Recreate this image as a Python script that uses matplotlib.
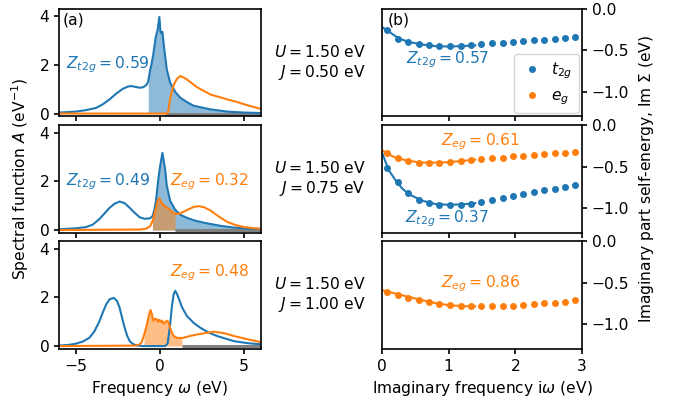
import numpy as np
import matplotlib
matplotlib.use("Agg")
import matplotlib.pyplot as plt
from matplotlib.lines import Line2D

plt.rcParams['font.size'] = 11.2
plt.rcParams['axes.linewidth'] = 1.2
plt.rcParams['xtick.major.width'] = 1.2
plt.rcParams['ytick.major.width'] = 1.2

C_T2G = '#1f77b4'
C_EG = '#ff7f0e'

# ---- spectral functions (real frequency) ----
# J = 0.50 eV
w_t2g_a = [-6, -5, -4.4, -3.8, -3.4, -3.0, -2.6, -2.2, -1.9, -1.7, -1.5, -1.2, -1.0, -0.9,
           -0.8, -0.7, -0.6, -0.5, -0.4, -0.26, -0.14, -0.04, 0.02, 0.06, 0.14, 0.24, 0.4,
           0.6, 0.9, 1.2, 1.6, 2.0, 3.0, 4.0, 5.0, 6.0]
A_t2g_a = [0.04, 0.08, 0.14, 0.23, 0.38, 0.58, 0.82, 1.02, 1.11, 1.13, 1.1, 1.06, 1.08, 1.13,
           1.18, 1.33, 1.74, 2.05, 2.43, 3.12, 3.46, 3.97, 3.4, 3.3, 3.36, 2.71, 1.81,
           1.27, 0.89, 0.65, 0.47, 0.32, 0.17, 0.08, 0.04, 0.02]
w_eg_a = [-6, 0.3, 0.45, 0.5, 0.6, 0.7, 0.8, 0.9, 1.0, 1.2, 1.35, 1.6, 2.2, 3.0, 3.5, 4.0,
          4.5, 5.0, 5.5, 6.0]
A_eg_a = [0.0, 0.0, 0.02, 0.12, 0.6, 0.9, 1.15, 1.3, 1.42, 1.54, 1.5, 1.4, 1.08, 0.78, 0.68,
          0.58, 0.49, 0.38, 0.28, 0.19]

# J = 0.75 eV
w_t2g_b = [-6, -5, -4.4, -4.0, -3.6, -3.3, -3.0, -2.7, -2.4, -2.1, -1.8, -1.5, -1.2, -0.9,
           -0.6, -0.45, -0.35, -0.24, -0.1, 0.0, 0.14, 0.3, 0.4, 0.6, 0.9, 1.2, 1.6, 2.0,
           2.6, 3.6, 4.4, 5.2, 6.0]
A_t2g_b = [0.03, 0.07, 0.12, 0.22, 0.45, 0.68, 0.91, 1.08, 1.17, 1.1, 0.91, 0.7, 0.52, 0.46,
           0.48, 0.56, 0.8, 1.2, 2.1, 2.6, 3.17, 2.5, 1.82, 1.2, 0.83, 0.63, 0.5, 0.4,
           0.3, 0.17, 0.1, 0.06, 0.04]
w_eg_b = [-6, -1.2, -0.8, -0.6, -0.45, -0.3, -0.15, -0.04, 0.1, 0.25, 0.5, 0.7, 0.9, 1.1,
          1.3, 1.6, 2.0, 2.3, 2.6, 3.0, 3.5, 4.0, 4.5, 5.0, 5.5, 6.0]
A_eg_b = [0.0, 0.02, 0.06, 0.15, 0.35, 0.75, 1.2, 1.3, 1.12, 1.0, 0.88, 0.75, 0.66, 0.66,
          0.72, 0.82, 0.95, 0.98, 0.94, 0.8, 0.55, 0.33, 0.2, 0.12, 0.08, 0.05]

# J = 1.00 eV
w_t2g_c = [-6, -5.4, -5.0, -4.6, -4.2, -3.9, -3.6, -3.4, -3.2, -3.0, -2.75, -2.55, -2.4,
           -2.25, -2.1, -1.95, -1.8, -1.6, -1.4, -1.0, 0.3, 0.45, 0.6, 0.7, 0.8, 0.9, 1.0,
           1.1, 1.3, 1.6, 2.0, 2.4, 2.9, 3.4, 4.4, 5.2, 6.0]
A_t2g_c = [0.02, 0.05, 0.1, 0.18, 0.34, 0.6, 1.02, 1.38, 1.71, 1.92, 1.98, 1.85, 1.57,
           1.15, 0.75, 0.42, 0.2, 0.08, 0.03, 0.0, 0.0, 0.1, 0.89, 1.6, 2.1, 2.27, 2.15,
           1.98, 1.6, 1.23, 0.95, 0.75, 0.55, 0.41, 0.2, 0.12, 0.07]
w_eg_c = [-6, -1.4, -1.2, -1.1, -0.95, -0.8, -0.65, -0.56, -0.48, -0.4, -0.3, -0.2, -0.12,
          -0.05, 0.05, 0.12, 0.2, 0.3, 0.4, 0.48, 0.56, 0.7, 0.8, 1.0, 1.3, 1.5, 1.8, 2.4,
          3.2, 3.8, 4.4, 5.2, 6.0]
A_eg_c = [0.0, 0.02, 0.08, 0.15, 0.45, 0.83, 1.3, 1.48, 1.3, 1.04, 1.12, 1.1, 1.0,
          1.08, 1.0, 1.05, 0.92, 0.98, 1.04, 1.0, 0.83, 0.55, 0.42, 0.34, 0.33, 0.36, 0.42,
          0.5, 0.59, 0.53, 0.41, 0.28, 0.16]

# filled windows (eV) and start of the grey band
t2g_fill = [(-0.7, 6.0), (-0.45, 6.0), None]
eg_fill = [None, (-0.5, 0.9), (-1.0, 1.3)]
grey_start = [0.3, 0.9, 1.3]

z_left = [[('t2g', 0.59)], [('t2g', 0.49), ('eg', 0.32)], [('eg', 0.48)]]
U_vals = [1.50, 1.50, 1.50]
J_vals = [0.50, 0.75, 1.00]

# ---- self-energies (Matsubara axis) ----
iw = [0.08, 0.24, 0.39, 0.55, 0.71, 0.86, 1.02, 1.18, 1.34, 1.49, 1.65, 1.81, 1.96,
      2.12, 2.28, 2.43, 2.59, 2.75, 2.90]
sig_t2g_a = [-0.25, -0.36, -0.40, -0.43, -0.44, -0.45, -0.45, -0.445, -0.44, -0.43, -0.415,
             -0.41, -0.40, -0.39, -0.38, -0.375, -0.37, -0.355, -0.345]
sig_eg_b = [-0.33, -0.40, -0.43, -0.45, -0.45, -0.45, -0.44, -0.43, -0.415, -0.41, -0.40,
            -0.39, -0.376, -0.37, -0.356, -0.35, -0.34, -0.33, -0.32]
sig_t2g_b = [-0.51, -0.69, -0.82, -0.90, -0.94, -0.957, -0.96, -0.96, -0.95, -0.93, -0.90,
             -0.876, -0.856, -0.83, -0.81, -0.78, -0.77, -0.75, -0.72]
sig_eg_c = [-0.61, -0.645, -0.68, -0.705, -0.73, -0.755, -0.77, -0.78, -0.786, -0.786,
            -0.786, -0.78, -0.775, -0.766, -0.755, -0.746, -0.74, -0.727, -0.714]

# low-frequency fits
fit_w = [0.0, 0.1, 0.2, 0.3, 0.4, 0.6, 0.8, 1.0, 1.2, 1.4]
fit_t2g_a = [-0.22, -0.27, -0.33, -0.37, -0.40, -0.43, -0.45, -0.455, -0.45, -0.44]
fit_eg_b = [-0.30, -0.35, -0.39, -0.41, -0.43, -0.45, -0.45, -0.445, -0.43, -0.415]
fit_t2g_b = [-0.33, -0.54, -0.66, -0.76, -0.83, -0.91, -0.95, -0.96, -0.955, -0.94]
fit_eg_c = [-0.59, -0.61, -0.63, -0.65, -0.67, -0.71, -0.745, -0.77, -0.782, -0.786]

z_right = [[('t2g', 0.57, 0.98, -0.62)],
           [('eg', 0.61, 1.48, -0.20), ('t2g', 0.37, 0.97, -1.13)],
           [('eg', 0.86, 1.48, -0.51)]]

spectra = [
    (w_t2g_a, A_t2g_a, w_eg_a, A_eg_a),
    (w_t2g_b, A_t2g_b, w_eg_b, A_eg_b),
    (w_t2g_c, A_t2g_c, w_eg_c, A_eg_c),
]
sigmas = [
    [('t2g', sig_t2g_a, fit_t2g_a)],
    [('eg', sig_eg_b, fit_eg_b), ('t2g', sig_t2g_b, fit_t2g_b)],
    [('eg', sig_eg_c, fit_eg_c)],
]

colors = {'t2g': C_T2G, 'eg': C_EG}
zlab = {'t2g': r'$Z_{t2g} = %.2f$', 'eg': r'$Z_{eg} = %.2f$'}

fig = plt.figure(figsize=(6.73, 4.03), dpi=100)
bottoms = [0.711, 0.422, 0.134]
h = 0.267

for i in range(3):
    axl = fig.add_axes([0.0877, bottoms[i], 0.3002, h])
    axr = fig.add_axes([0.5676, bottoms[i], 0.2972, h])

    wt, At, we, Ae = [np.array(v) for v in spectra[i]]
    axl.plot([grey_start[i], 6.0], [0, 0], color='grey', lw=2.2, zorder=1.5,
             solid_capstyle='butt')
    if t2g_fill[i] is not None:
        lo, hi = t2g_fill[i]
        m = (wt >= lo) & (wt <= hi)
        axl.fill_between(wt[m], 0, At[m], color=C_T2G, alpha=0.5, lw=0, zorder=1)
    if eg_fill[i] is not None:
        lo, hi = eg_fill[i]
        m = (we >= lo) & (we <= hi)
        axl.fill_between(we[m], 0, Ae[m], color=C_EG, alpha=0.5, lw=0, zorder=1.2)
    axl.plot(wt, At, color=C_T2G, lw=1.5, zorder=2)
    axl.plot(we, Ae, color=C_EG, lw=1.5, zorder=2)

    for orb, z in z_left[i]:
        if orb == 't2g':
            axl.text(-3.1, 2.0, zlab[orb] % z, color=colors[orb], ha='center', va='center')
        else:
            y = 2.0 if i == 1 else 3.0
            axl.text(2.95, y, zlab[orb] % z, color=colors[orb], ha='center', va='center')

    axl.set_xlim(-6, 6)
    axl.set_ylim(-0.12, 4.3)
    axl.set_yticks([0, 2, 4])
    axl.set_xticks([-5, 0, 5])
    if i < 2:
        axl.set_xticklabels([])
    else:
        axl.set_xlabel(r'Frequency $\omega$ (eV)')

    for orb, sig, fit in sigmas[i]:
        axr.plot(iw, sig, 'o', color=colors[orb], ms=4)
        axr.plot(fit_w, fit, '-', color=colors[orb], lw=1.5)
    for orb, z, x, y in z_right[i]:
        axr.text(x, y, zlab[orb] % z, color=colors[orb], ha='center', va='center')

    axr.set_xlim(0, 3)
    axr.set_ylim(-1.3, 0)
    axr.set_xticks([0, 1, 2, 3])
    axr.set_yticks([0.0, -0.5, -1.0])
    axr.yaxis.tick_right()
    if i < 2:
        axr.set_xticklabels([])
    else:
        axr.set_xlabel(r'Imaginary frequency i$\omega$ (eV)')

    axr.text(-0.083, 0.5, r'$U = %.2f$ eV' % U_vals[i] + '\n' + r'$J = %.2f$ eV' % J_vals[i],
             transform=axr.transAxes, ha='right', va='center', multialignment='right')

    if i == 0:
        axl.text(0.02, 0.97, '(a)', transform=axl.transAxes, ha='left', va='top')
        axr.text(0.03, 0.97, '(b)', transform=axr.transAxes, ha='left', va='top')
        handles = [Line2D([], [], marker='o', ls='', color=C_T2G, ms=4),
                   Line2D([], [], marker='o', ls='', color=C_EG, ms=4)]
        axr.legend(handles, [r'$t_{2g}$', r'$e_g$'], loc='lower right',
                   handlelength=1.5, handletextpad=0.5, borderaxespad=0.2)

fig.text(0.03, 0.556, r'Spectral function $A$ (eV$^{-1}$)', rotation=90,
         ha='center', va='center')
fig.text(0.961, 0.556, r'Imaginary part self-energy, Im $\Sigma$ (eV)', rotation=90,
         ha='center', va='center')

fig.savefig('out.png', dpi=100)
